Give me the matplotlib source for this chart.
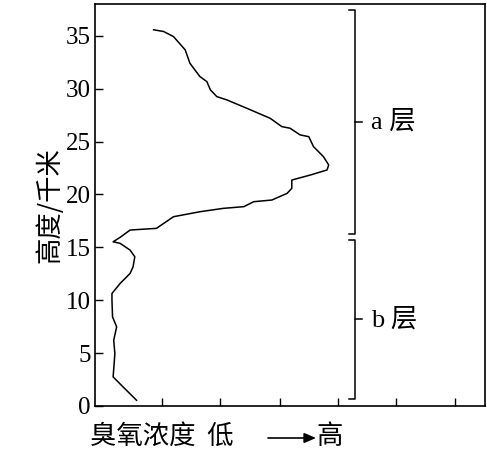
import matplotlib
matplotlib.use("Agg")
import matplotlib.pyplot as plt

ozone = [0.71,0.48,0.31,0.34,0.32,0.37,0.30,0.29,0.29,0.43,0.60,0.65,0.68,0.60,0.43,0.31,0.43,0.60,1.05,1.34,1.79,2.19,2.54,2.71,3.02,3.28,3.36,3.36,3.68,3.96,3.99,3.90,3.73,3.65,3.50,3.33,3.19,2.99,2.59,2.25,2.08,1.97,1.91,1.79,1.62,1.54,1.34,1.17,1.00]
height = [0.53,1.79,2.74,4.95,6.21,7.47,8.42,10.0,10.63,11.58,12.53,13.15,14.1,14.73,15.37,15.52,15.94,16.63,16.79,17.89,18.36,18.68,18.84,19.31,19.47,20.1,20.58,21.36,21.84,22.31,22.78,23.57,24.52,25.46,25.63,26.26,26.41,27.2,28.15,28.94,29.25,29.89,30.67,31.15,32.41,33.67,34.93,35.41,35.57]
yticks = [0,5,10,15,20,25,30,35]
xticks = [1.15,2.14,3.15,4.15,5.14,6.14]
layers = ["a 层","b 层"]
layer_top = [37.46,15.68]
layer_bot = [16.3,0.69]

fig = plt.figure(figsize=(4.87,4.54), dpi=100)
ax = fig.add_axes([0.195,0.106,0.80,0.885])
ax.plot(ozone, height, color="black", lw=1.1)
ax.set_xlim(0,6.65)
ax.set_ylim(0,38.0)
ax.set_yticks(yticks)
ax.set_yticklabels([str(v) for v in yticks], family="Liberation Serif", fontsize=18)
ax.set_xticks(xticks)
ax.set_xticklabels([])
ax.tick_params(direction="in", length=6, width=1, right=False, top=False, pad=3)
for s in ax.spines.values():
    s.set_linewidth(1.2)
ax.set_ylabel("高度/千米", family=["Noto Sans CJK SC","DejaVu Sans"], fontsize=19, labelpad=2)

bx, cap = 4.44, 0.11
for name, t, b in zip(layers, layer_top, layer_bot):
    ax.plot([bx-cap,bx,bx,bx-cap],[t,t,b,b], color="black", lw=1.1)
    m = (t+b)/2
    ax.plot([bx,bx+cap],[m,m], color="black", lw=1.1)
    ax.text(bx+0.28, m, name, family=["Liberation Serif","Noto Sans CJK SC"], fontsize=19, va="center")

cjk = ["Noto Sans CJK SC","DejaVu Sans"]
fig.text(90/487, 1-436/454, "臭氧浓度  低", family=cjk, fontsize=19, va="center")
fig.text(316/487, 1-436/454, "高", family=cjk, fontsize=19, va="center")
fig.add_artist(matplotlib.patches.FancyArrowPatch((268/487,1-438/454),(316/487,1-438/454), transform=fig.transFigure, arrowstyle="-|>,head_length=7,head_width=3", color="black", lw=1.2, shrinkA=0, shrinkB=0))
fig.savefig("out.png", dpi=100)
